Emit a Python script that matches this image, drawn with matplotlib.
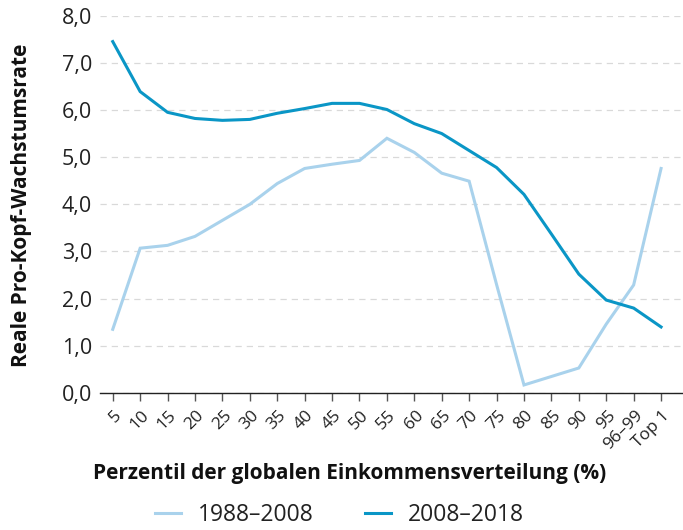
import matplotlib
matplotlib.use("Agg")
import matplotlib.pyplot as plt
from matplotlib.ticker import FuncFormatter
from matplotlib.transforms import ScaledTranslation

categories = ["5", "10", "15", "20", "25", "30", "35", "40", "45", "50", "55",
              "60", "65", "70", "75", "80", "85", "90", "95", "96–99", "Top 1"]
growth_1988_2008 = [1.35, 3.07, 3.13, 3.32, 3.66, 4.00, 4.44, 4.76, 4.85, 4.93, 5.40,
                    5.10, 4.66, 4.49, 2.30, 0.17, 0.35, 0.53, 1.46, 2.29, 4.76]
growth_2008_2018 = [7.45, 6.39, 5.95, 5.82, 5.78, 5.80, 5.93, 6.03, 6.14, 6.14, 6.01,
                    5.71, 5.50, 5.14, 4.78, 4.21, 3.37, 2.52, 1.97, 1.80, 1.40]
series_labels = ["1988–2008", "2008–2018"]

plt.rcParams["font.family"] = ["Open Sans", "DejaVu Sans"]

fig = plt.figure(figsize=(6.83, 5.30), dpi=100)
ax = fig.add_axes([0.147, 0.2585, 0.853, 0.712])

x = list(range(len(categories)))
ax.plot(x, growth_1988_2008, color="#a9d2ec", lw=2.2, label=series_labels[0],
        solid_joinstyle="miter")
ax.plot(x, growth_2008_2018, color="#0a96c6", lw=2.2, label=series_labels[1],
        solid_joinstyle="miter")

ax.set_ylim(0, 8)
ax.set_xlim(-0.45, 20.8)
ax.set_yticks(range(0, 9))
ax.yaxis.set_major_formatter(FuncFormatter(lambda v, _: f"{v:.1f}".replace(".", ",")))
ax.set_xticks(x)
ax.set_xticklabels(categories, rotation=45, ha="right", rotation_mode="anchor")

for s in ("top", "right", "left"):
    ax.spines[s].set_visible(False)
ax.spines["bottom"].set_color("#222222")
ax.spines["bottom"].set_linewidth(1.0)

ax.grid(axis="y", color="#d9d9d9", linestyle=(0, (5, 4)), lw=0.9)
ax.set_axisbelow(True)
ax.tick_params(axis="y", length=0, labelsize=15.5, colors="#222222", pad=6)
ax.tick_params(axis="x", length=6, width=1.0, color="#555555", labelsize=12.5,
               labelcolor="#222222", pad=3)
for lbl in ax.get_xticklabels():
    lbl.set_transform(lbl.get_transform() + ScaledTranslation(1/100, -2/100, fig.dpi_scale_trans))

ax.set_ylabel("Reale Pro-Kopf-Wachstumsrate", fontsize=15, fontweight="bold",
              color="#111111")
ax.yaxis.set_label_coords(-0.117, 0.497)
fig.text(0.512, 0.107, "Perzentil der globalen Einkommensverteilung (%)",
         ha="center", va="center", fontsize=15, fontweight="bold", color="#111111")

leg = fig.legend(loc="center", bbox_to_anchor=(0.497, 0.028), ncol=2, frameon=False,
                 fontsize=16.5, handlelength=1.1, columnspacing=2.27, handletextpad=0.74)
for t in leg.get_texts():
    t.set_color("#222222")

fig.savefig("out.png", dpi=100)
